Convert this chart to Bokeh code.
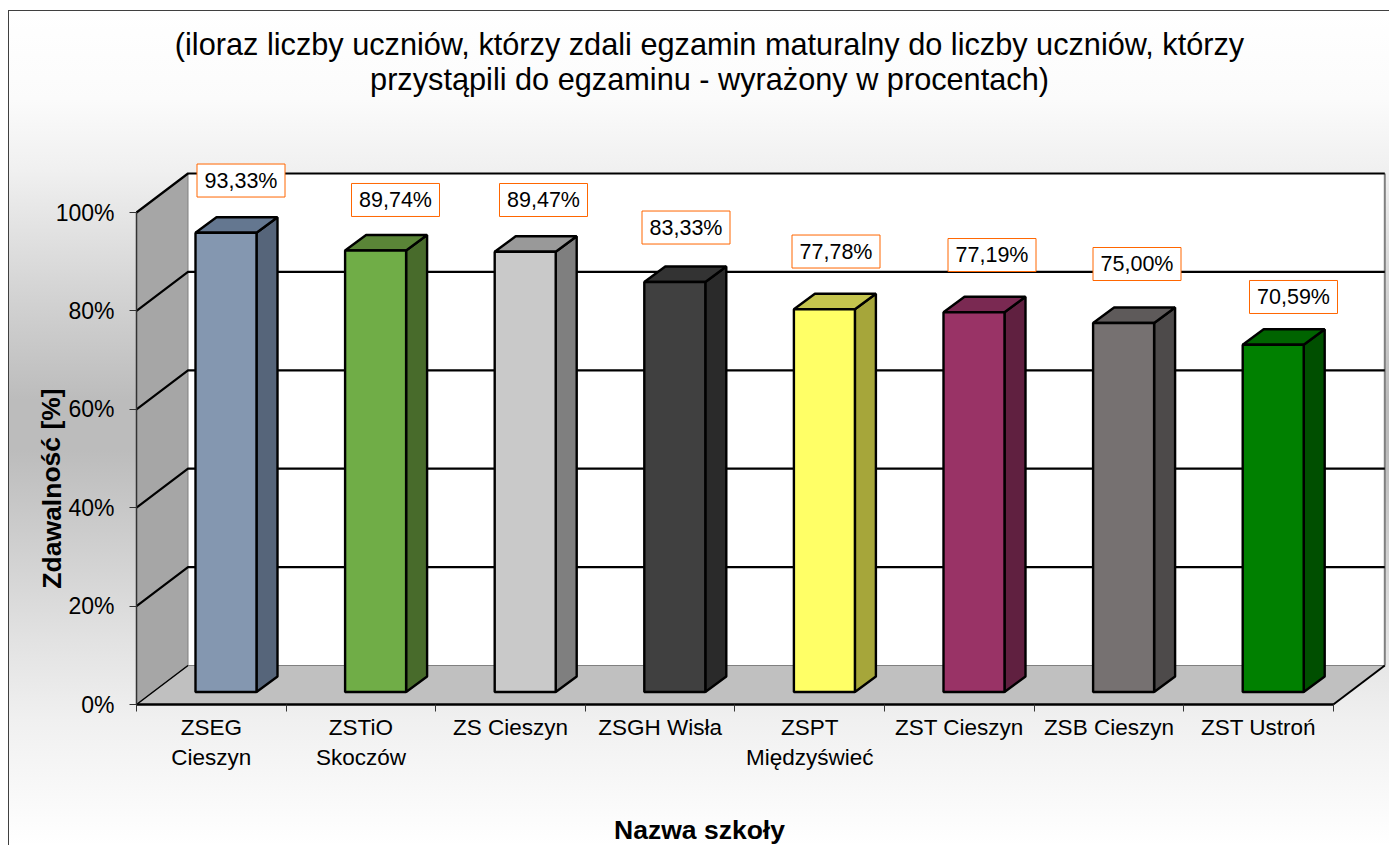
from bokeh.embed import file_html
from bokeh.resources import INLINE
from bokeh.plotting import figure
from bokeh.models import FixedTicker, LinearAxis, Label, Range1d
from bokeh.core.properties import value as bv

categories = ["ZSEG Cieszyn", "ZSTiO Skoczów", "ZS Cieszyn", "ZSGH Wisła", "ZSPT Międzyświeć",
              "ZST Cieszyn", "ZSB Cieszyn", "ZST Ustroń"]
tick_labels = ["ZSEG\nCieszyn", "ZSTiO\nSkoczów", "ZS Cieszyn", "ZSGH Wisła", "ZSPT\nMiędzyświeć",
               "ZST Cieszyn", "ZSB Cieszyn", "ZST Ustroń"]
values = [93.33, 89.74, 89.47, 83.33, 77.78, 77.19, 75.00, 70.59]
value_labels = ["93,33%", "89,74%", "89,47%", "83,33%", "77,78%", "77,19%", "75,00%", "70,59%"]
front_colors = ["#8497B0", "#70AD47", "#C9C9C9", "#404040", "#FFFF66", "#993366", "#767171", "#008000"]
side_colors = ["#56657A", "#486B2B", "#7F7F7F", "#2A2A2A", "#A6A63A", "#602040", "#4D4A4A", "#004F00"]
top_colors = ["#647790", "#5A8537", "#999999", "#333333", "#C4C44E", "#7A2952", "#5E5A5A", "#006400"]
y_ticks = [0, 20, 40, 60, 80, 100]
label_shift_x = [15, 19.9, 18.3, 11.2, 11.6, 18, 13.4, 20.3]
label_shift_y = [36.8, 35, 36.3, 39, 42.3, 41.7, 43.5, 32.2]

FONT = "Liberation Sans"
W, H = 1389, 845
ORIGIN_X, ORIGIN_Y = 136, 704   # page pixels of the front corner
PX_X = 149.6   # pixels per category
PX_Y = 4.92    # pixels per percent
DX = 51.5 / PX_X   # depth of the box
DY = 39 / PX_Y
BAR_W = 61 / PX_X
BAR_OFF_X = 14.7 / PX_X   # from cell centre
BAR_OFF_Y = 12.5 / PX_Y
BAR_DX = 21 / PX_X
BAR_DY = 15.5 / PX_Y
n = len(values)

p = figure(width=W, height=H, output_backend="svg", toolbar_location=None,
           min_border_left=0, min_border_right=0, min_border_top=0, min_border_bottom=0,
           x_axis_type=None, y_axis_type=None,
           x_range=Range1d(-ORIGIN_X / PX_X, (W - ORIGIN_X) / PX_X),
           y_range=Range1d(-(H - ORIGIN_Y) / PX_Y, ORIGIN_Y / PX_Y))
p.grid.visible = False
p.outline_line_color = None
p.background_fill_color = None
p.border_fill_color = None
p.styles = {
    "background":
        "linear-gradient(#404040,#404040) no-repeat 8px 10px / 100% 1px,"
        "linear-gradient(#404040,#404040) no-repeat 8px 10px / 1px 100%,"
        "linear-gradient(#ffffff 0px,#fbfbfb 90px,#f0f0f0 160px,#d2d2d2 290px,#bcbcbc 390px,#bcbcbc 440px,"
        "#d2d2d2 550px,#e2e2e2 630px,#f0f0f0 710px,#ffffff 835px) no-repeat 8px 10px"
}

# back wall
p.quad(left=[DX], right=[n + DX], bottom=[DY], top=[100 + DY], fill_color="#ffffff", line_color=None)
# side wall
p.patch([0, DX, DX, 0], [0, DY, 100 + DY, 100], fill_color="#a6a6a6", line_color="#808080", line_width=1)
# right edge of the back wall
p.line([n + DX, n + DX], [DY, 100 + DY], line_color="#808080", line_width=2)
# floor
p.patch([0, n, n + DX, DX], [0, 0, DY, DY], fill_color="#c0c0c0", line_color="#808080", line_width=1)
p.line([n, n + DX], [0, DY], line_color="#000000", line_width=2)
# grid
gx = [[0, DX, n + DX] for t in y_ticks[1:]]
gy = [[t, t + DY, t + DY] for t in y_ticks[1:]]
p.multi_line(gx, gy, line_color="#000000", line_width=2.2)
p.line([0, DX], [0, DY], line_color="#000000", line_width=1.5)

# bars
lefts = [i + 0.5 + BAR_OFF_X - BAR_W / 2 for i in range(n)]
rights = [l + BAR_W for l in lefts]
base = BAR_OFF_Y
tops = [v + base for v in values]
p.patches([[r, r + BAR_DX, r + BAR_DX, r] for r in rights],
          [[base, base + BAR_DY, t + BAR_DY, t] for t in tops],
          fill_color=side_colors, line_color="#000000", line_width=2.4)
p.patches([[l, r, r + BAR_DX, l + BAR_DX] for l, r in zip(lefts, rights)],
          [[t, t, t + BAR_DY, t + BAR_DY] for t in tops],
          fill_color=top_colors, line_color="#000000", line_width=2.4)
p.quad(left=lefts, right=rights, bottom=base, top=tops, fill_color=front_colors,
       line_color="#000000", line_width=2.4)

# value labels
lx = [(l + r) / 2 + s / PX_X for l, r, s in zip(lefts, rights, label_shift_x)]
ly = [t + BAR_DY + s / PX_Y for t, s in zip(tops, label_shift_y)]
p.rect(lx, ly, width=88, height=33, width_units="screen", height_units="screen",
       fill_color="#ffffff", line_color="#FF6600", line_width=1)
p.text(lx, ly, text=value_labels, text_align="center", text_baseline="middle",
       text_font=bv(FONT), text_font_size="21.5px", text_color="#000000")

# axes
ya = LinearAxis(bounds=(0, 100), fixed_location=0, ticker=FixedTicker(ticks=y_ticks),
                major_label_overrides={t: f"{t}%" for t in y_ticks})
ya.axis_line_color = "#333333"
ya.axis_line_width = 1.5
ya.major_tick_in = 0
ya.major_tick_out = 7
ya.major_tick_line_color = "#333333"
ya.major_label_standoff = 15
ya.major_label_text_font = FONT
ya.major_label_text_font_size = "23px"
ya.major_label_text_color = "#000000"
p.add_layout(ya, "left")

centers = [i + 0.5 for i in range(n)]
xa = LinearAxis(bounds=(0, n), fixed_location=0,
                ticker=FixedTicker(ticks=centers, minor_ticks=list(range(n + 1))),
                major_label_overrides=dict(zip(centers, tick_labels)))
xa.axis_line_color = "#000000"
xa.axis_line_width = 2.5
xa.major_tick_line_color = None
xa.major_tick_in = 0
xa.major_tick_out = 0
xa.minor_tick_in = 0
xa.minor_tick_out = 7
xa.minor_tick_line_color = "#333333"
xa.major_label_standoff = 3
xa.major_label_text_font = FONT
xa.major_label_text_font_size = "22.5px"
xa.major_label_text_color = "#000000"
p.add_layout(xa, "below")

# titles: positions are relative to the frame's lower left corner
def page_label(text, px, py, **kw):
    p.add_layout(Label(x=px, y=H - py, x_units="screen", y_units="screen", text=text,
                       text_align="center", text_baseline="middle", text_font=FONT,
                       text_color="#000000", **kw))

page_label("(iloraz liczby uczniów, którzy zdali egzamin maturalny do liczby uczniów, którzy", 709, 44,
           text_font_size="30.7px")
page_label("przystąpili do egzaminu - wyrażony w procentach)", 709, 79, text_font_size="30.7px")
page_label("Nazwa szkoły", 699, 829, text_font_style="bold", text_font_size="26.5px")
page_label("Zdawalność [%]", 51, 488, text_font_style="bold", text_font_size="26.5px", angle=1.5708)

open("out.html", "w").write(file_html(p, INLINE))
